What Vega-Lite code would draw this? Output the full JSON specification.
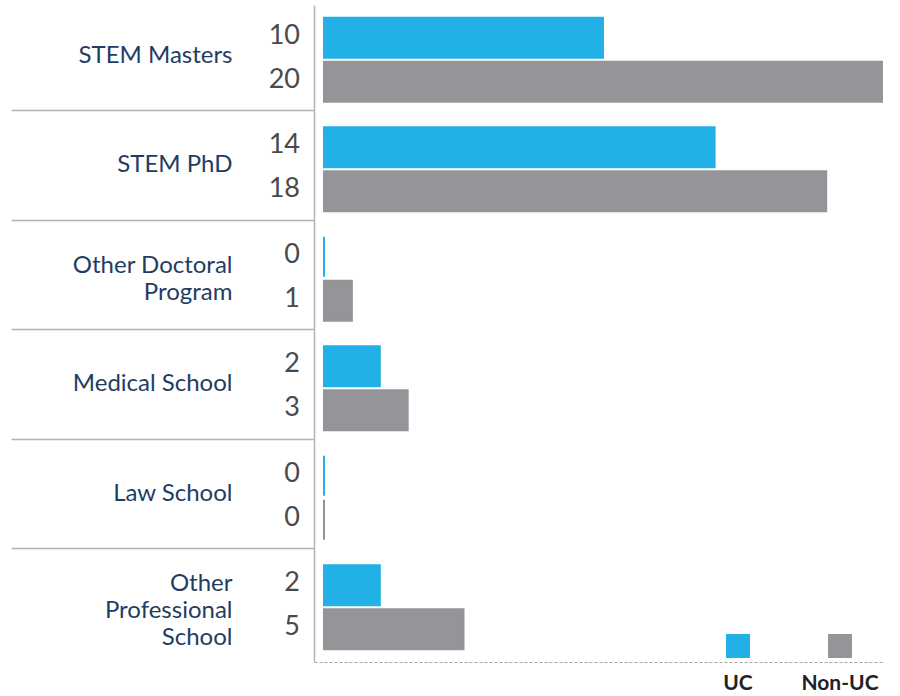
{
  "$schema": "https://vega.github.io/schema/vega-lite/v6.json",
  "width": 568,
  "height": 657,
  "autosize": {"type": "none"},
  "padding": {"left": 314, "top": 5, "right": 18, "bottom": 34},
  "background": "white",
  "config": {"view": {"stroke": null}, "font": "Lato"},
  "data": {
    "values": [
      {"program": "STEM Masters", "series": "UC", "value": 10},
      {"program": "STEM Masters", "series": "Non-UC", "value": 20},
      {"program": "STEM PhD", "series": "UC", "value": 14},
      {"program": "STEM PhD", "series": "Non-UC", "value": 18},
      {"program": "Other Doctoral|Program", "series": "UC", "value": 0},
      {"program": "Other Doctoral|Program", "series": "Non-UC", "value": 1},
      {"program": "Medical School", "series": "UC", "value": 2},
      {"program": "Medical School", "series": "Non-UC", "value": 3},
      {"program": "Law School", "series": "UC", "value": 0},
      {"program": "Law School", "series": "Non-UC", "value": 0},
      {"program": "Other|Professional|School", "series": "UC", "value": 2},
      {"program": "Other|Professional|School", "series": "Non-UC", "value": 5}
    ]
  },
  "encoding": {
    "y": {
      "field": "program",
      "type": "nominal",
      "sort": null,
      "scale": {"paddingInner": 0, "paddingOuter": 0},
      "axis": {
        "title": null,
        "grid": false,
        "domainColor": "#b3b3b3",
        "domainWidth": 1.5,
        "ticks": true,
        "bandPosition": 0.9635,
        "tickSize": 303,
        "tickColor": "#b3b3b3",
        "tickWidth": 1.5,
        "tickOpacity": {"condition": {"test": "datum.index >= 1", "value": 0}, "value": 1},
        "labelPadding": -221,
        "labelFontSize": 24,
        "labelFont": "Lato",
        "labelColor": "#1f3d63",
        "labelLimit": 300,
        "labelLineHeight": 27,
        "labelOffset": {
          "condition": [
            {"test": "datum.value === 'Other Doctoral|Program'", "value": -13},
            {"test": "datum.value === 'Other|Professional|School'", "value": -23}
          ],
          "value": -4
        },
        "labelExpr": "split(datum.label, '|')",
        "maxExtent": 400
      }
    },
    "yOffset": {
      "field": "series",
      "type": "nominal",
      "sort": ["UC", "Non-UC"],
      "scale": {"paddingInner": 0.0909, "paddingOuter": 0.29}
    }
  },
  "layer": [
    {
      "mark": {"type": "bar", "strokeWidth": 2},
      "encoding": {
        "x": {
          "field": "value",
          "type": "quantitative",
          "scale": {"domain": [-0.358, 20], "nice": false},
          "axis": {
            "title": null,
            "labels": false,
            "ticks": false,
            "grid": false,
            "domainColor": "#a6a6a6",
            "domainWidth": 1.2,
            "domainDash": [3, 2]
          }
        },
        "color": {
          "field": "series",
          "type": "nominal",
          "sort": ["UC", "Non-UC"],
          "scale": {"domain": ["UC", "Non-UC"], "range": ["#22b1e6", "#939598"]},
          "legend": {
            "orient": "none",
            "legendX": 412,
            "legendY": 629,
            "direction": "horizontal",
            "title": null,
            "symbolType": "square",
            "symbolSize": 576,
            "symbolStrokeWidth": 0,
            "labelFontSize": 21,
            "labelFont": "Lato",
            "labelFontWeight": "bold",
            "labelColor": "#222222",
            "labelAlign": "center",
            "labelBaseline": "top",
            "labelOffset": -12,
            "columnPadding": 48,
            "encode": {"labels": {"update": {"dy": {"value": 27}}}}
          }
        },
        "stroke": {
          "field": "series",
          "type": "nominal",
          "scale": {"domain": ["UC", "Non-UC"], "range": ["#22b1e6", "#939598"]},
          "legend": null
        }
      }
    },
    {
      "mark": {"type": "text", "align": "right", "baseline": "middle", "dx": -24, "dy": -2, "fontSize": 27, "font": "Lato", "color": "#4a4a4a"},
      "encoding": {
        "x": {"datum": 0},
        "text": {"field": "value", "type": "quantitative"}
      }
    }
  ]
}
